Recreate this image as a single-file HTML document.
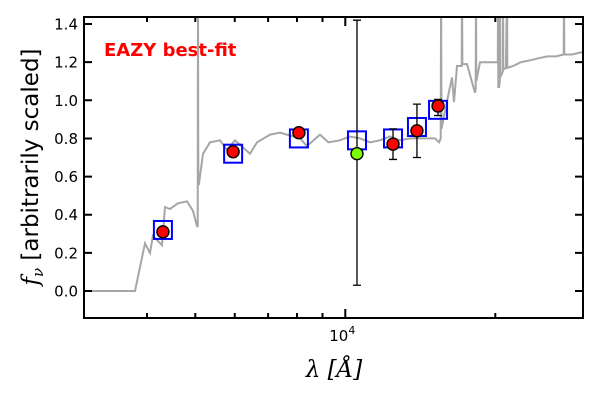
<!DOCTYPE html>
<html><head><meta charset="utf-8"><style>
html,body{margin:0;padding:0;background:#fff;}
svg{display:block;font-family:"DejaVu Sans","Liberation Sans",sans-serif;}
</style></head><body>
<svg id="chart" width="600" height="400">
<text x="104" y="56" fill="#ff0000" font-size="18" font-weight="bold">EAZY best-fit</text>
<text x="334" y="377" text-anchor="middle" font-size="23" font-family="DejaVu Serif,serif" font-style="italic">λ [Å]</text>
<text transform="translate(38,167) rotate(-90)" text-anchor="middle" font-size="23"><tspan font-style="italic" font-family="DejaVu Serif,serif">f</tspan><tspan font-style="italic" font-family="DejaVu Serif,serif" font-size="15" dy="5">ν</tspan><tspan dy="-5"> [arbitrarily scaled]</tspan></text>
</svg>
<script>
const specWave=[3000,3784,3963,4055,4111,4286,4346,4448,4616,4812,4947,5039,5055,5062,5069,5085,5181,5352,5603,5788,6006,6437,6650,7064,7395,8112,8378,8897,9250,9758,10200,10703,11200,11738,12300,12877,13500,14124,15136,15425,15540,15568,15596,16074,16375,16527,16758,17120,17149,17178,17549,18210,18270,18295,18320,18634,20163,20230,20256,20282,20350,20420,20445,20470,20705,20730,20755,21000,21116,21140,21713,22500,23487,24400,25403,26500,27440,27475,27510,28500,29580,30500];
const specFlux=[0,0,0.25,0.2,0.29,0.24,0.44,0.43,0.46,0.47,0.42,0.34,0.34,1.6,0.56,0.56,0.72,0.78,0.79,0.74,0.79,0.72,0.78,0.82,0.83,0.8,0.76,0.82,0.78,0.79,0.81,0.8,0.78,0.79,0.81,0.79,0.8,0.8,0.8,0.78,0.8,1.6,0.85,1.02,1.12,0.99,1.18,1.18,1.6,1.19,1.19,1.04,1.06,1.6,1.1,1.2,1.2,1.2,1.6,1.07,1.07,1.1,1.6,1.12,1.15,1.6,1.16,1.17,1.6,1.17,1.18,1.2,1.21,1.22,1.23,1.23,1.24,1.6,1.24,1.24,1.25,1.26];
const photWave=[4305,5955,8070,12467,13925,15350];
const photFlux=[0.31,0.73,0.83,0.77,0.84,0.97];
const photLo=[0.31,0.73,0.83,0.69,0.70,0.92];
const photHi=[0.31,0.73,0.83,0.85,0.98,1.005];
const outWave=[10555];
const outFlux=[0.72];
const outLo=[0.03];
const outHi=[1.42];
const modelWave=[4305,5955,8070,10555,12467,13925,15350];
const modelFlux=[0.32,0.72,0.80,0.79,0.80,0.86,0.95];
const yTicks=[0,0.2,0.4,0.6,0.8,1.0,1.2,1.4];
const yTickLabels=["0.0","0.2","0.4","0.6","0.8","1.0","1.2","1.4"];
const xMinor=[4000,5000,6000,7000,8000,9000,20000];

const L=84,R=583,T=17,B=318;
const X=w=>345.3+(Math.log10(w)-4)*498.3;
const Y=v=>291-v*190.7;
const NS="http://www.w3.org/2000/svg";
const svg=document.getElementById('chart');
function mk(tag,attrs,parent){const e=document.createElementNS(NS,tag);for(const k in attrs)e.setAttribute(k,attrs[k]);(parent||svg).appendChild(e);return e;}
const defs=mk('defs',{});
const cp=mk('clipPath',{id:'clip'},defs);
mk('rect',{x:L,y:T,width:R-L,height:B-T},cp);
const g=mk('g',{'clip-path':'url(#clip)'});


let d='';
specWave.forEach((w,i)=>{d+=(i?'L':'M')+X(w).toFixed(1)+','+Y(specFlux[i]).toFixed(1);});
const sp=mk('path',{d:d,fill:'none',stroke:'#a6a6a6','stroke-width':2},g);


modelWave.forEach((w,i)=>{
  const r=mk('rect',{x:X(w)-9,y:Y(modelFlux[i])-9,width:18,height:18,fill:'none',stroke:'#0000ff','stroke-width':2},g);
  
  
});
function pts(ws,fs,lo,hi,fill,name){
  ws.forEach((w,i)=>{
    const x=X(w);
    if(hi[i]-lo[i]>0.01){
      const e=mk('path',{d:`M${x},${Y(lo[i])}V${Y(hi[i])}M${x-4},${Y(lo[i])}H${x+4}M${x-4},${Y(hi[i])}H${x+4}`,stroke:'#000','stroke-width':1.3,fill:'none'},g);
      
      
    }
    const c=mk('circle',{cx:x,cy:Y(fs[i]),r:6,fill:fill,stroke:'#000','stroke-width':1.4},g);
    
    
  });
}
pts(photWave,photFlux,photLo,photHi,'#ff0000','observed-flux-point');
pts(outWave,outFlux,outLo,outHi,'#7cfc00','excluded-flux-point');
const ax=mk('g',{stroke:'#000','stroke-width':2,fill:'none'});


mk('rect',{x:L,y:T,width:R-L,height:B-T},ax);
yTicks.forEach((v,i)=>{
  const y=Y(v);
  mk('path',{d:`M${L},${y}h8M${R},${y}h-8`},ax);
  const t=mk('text',{x:L-6,y:y+5.5,'text-anchor':'end','font-size':15,fill:'#000'});
  t.textContent=yTickLabels[i];
  
  
});
xMinor.forEach(w=>{const x=X(w);mk('path',{d:`M${x},${B}v-5M${x},${T}v5`},ax);});
const xm=X(10000);
mk('path',{d:`M${xm},${B}v-9M${xm},${T}v9`},ax);
const xt=mk('text',{x:xm-3,y:B+23,'text-anchor':'middle','font-size':15,fill:'#000'});
xt.innerHTML='10<tspan dy="-7" font-size="11">4</tspan>';


</script>
</body></html>
